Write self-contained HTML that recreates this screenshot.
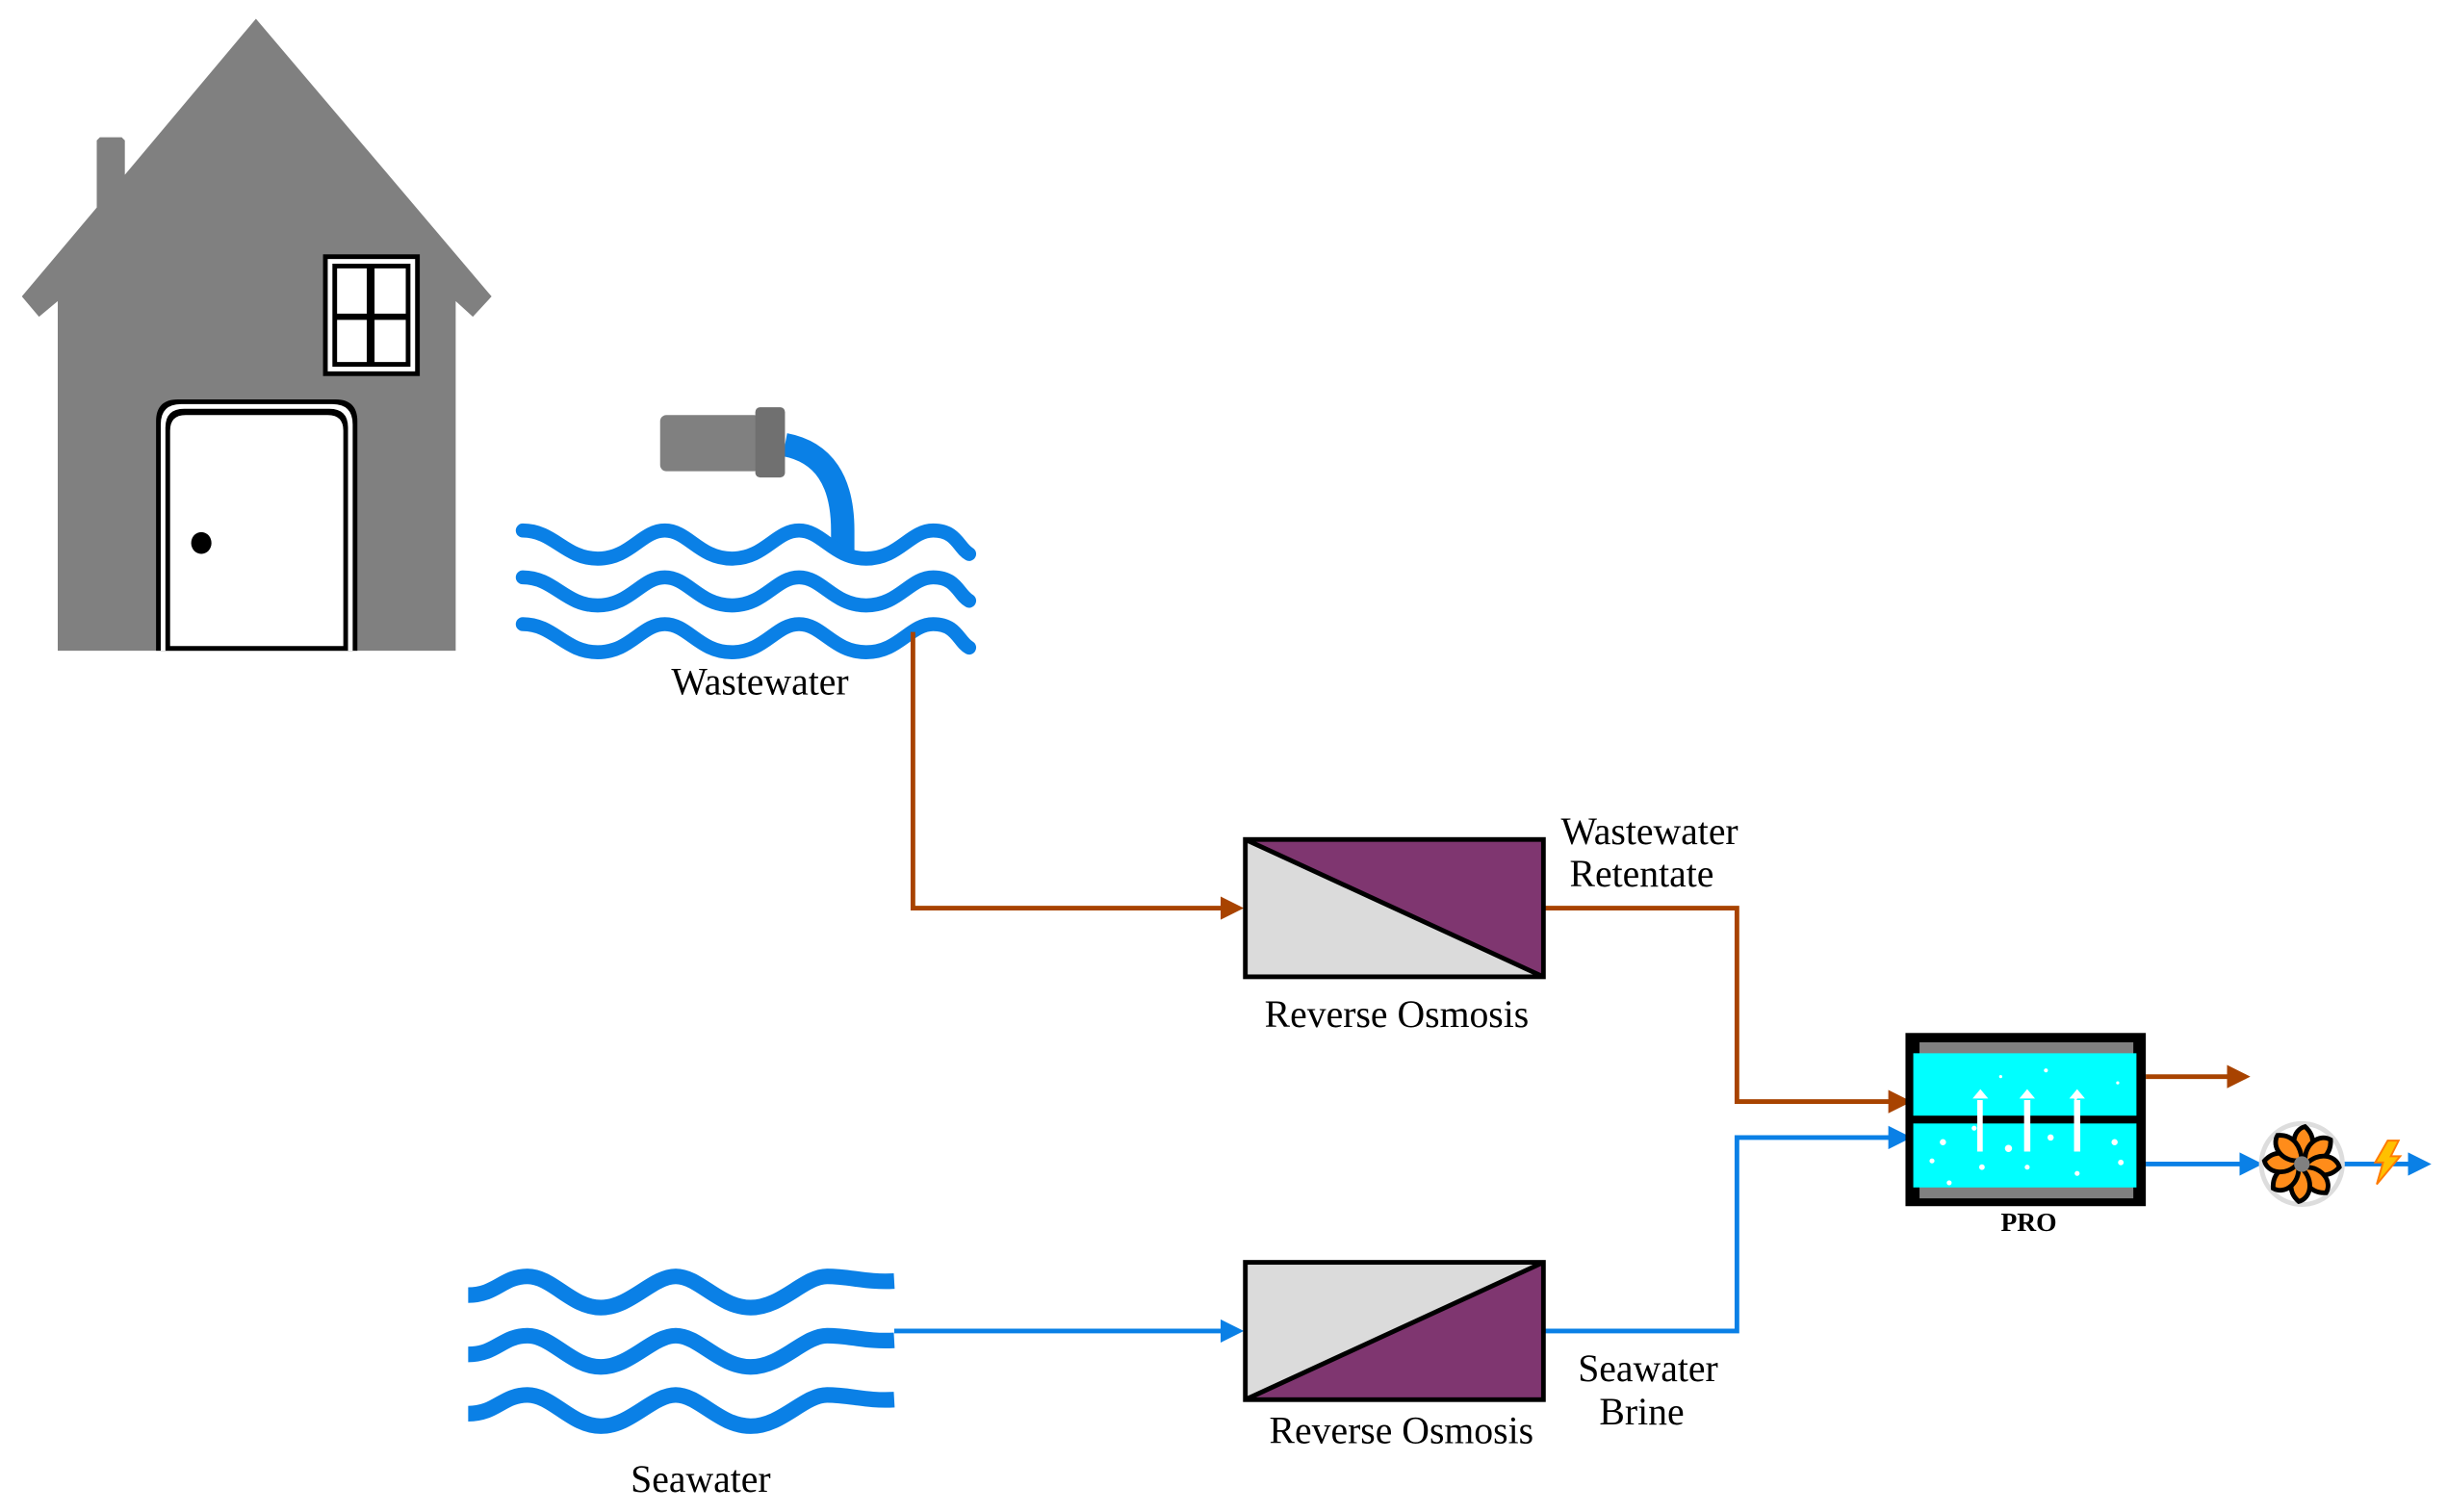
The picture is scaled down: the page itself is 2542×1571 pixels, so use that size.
<!DOCTYPE html>
<html><head><meta charset="utf-8"><style>
html,body{margin:0;padding:0;background:#fff;}
svg{display:block}
text{font-family:"Liberation Serif",serif;fill:#000}
</style></head><body>
<svg width="2542" height="1571" viewBox="0 0 1568 969" preserveAspectRatio="none" xmlns="http://www.w3.org/2000/svg">
<defs>
<marker id="ab" markerWidth="5" markerHeight="5" refX="4" refY="2.5" orient="auto" markerUnits="strokeWidth"><path d="M0,0 L5,2.5 L0,5 Z" fill="#A84300"/></marker>
<marker id="au" markerWidth="5" markerHeight="5" refX="4" refY="2.5" orient="auto" markerUnits="strokeWidth"><path d="M0,0 L5,2.5 L0,5 Z" fill="#0A80E6"/></marker>
</defs>
<!-- House -->
<polygon fill="#808080" points="14,190 62,133 62,90 64,88 78,88 80,90 80,112 164,12 315,190 303,203 292,193 292,417 37,417 37,193 25,203"/>
<rect x="207" y="163" width="62" height="78" fill="#000"/>
<rect x="210" y="166" width="56" height="72" fill="#fff"/>
<rect x="213" y="169" width="50" height="66" fill="#000"/>
<rect x="216" y="172" width="19" height="29" fill="#fff"/>
<rect x="240" y="172" width="20" height="29" fill="#fff"/>
<rect x="216" y="205" width="19" height="27" fill="#fff"/>
<rect x="240" y="205" width="20" height="27" fill="#fff"/>
<path d="M100,417 V270 Q100,256 114,256 H215 Q229,256 229,270 V417 Z" fill="#000"/>
<path d="M103,417 V272 Q103,259 116,259 H213 Q226,259 226,272 V417 Z" fill="#fff"/>
<path d="M106,417 V274 Q106,262 118,262 H211 Q223,262 223,274 V417 Z" fill="#000"/>
<path d="M109,414 V276 Q109,266 119,266 H210 Q220,266 220,276 V414 Z" fill="#fff"/>
<ellipse cx="129" cy="348" rx="6.5" ry="7" fill="#000"/>
<!-- pipe -->
<path d="M503,285 Q540,292 540,340 V355" fill="none" stroke="#0A80E6" stroke-width="15"/>
<rect x="423" y="266" width="64" height="36" rx="4" fill="#808080"/>
<rect x="484" y="261" width="19" height="45" rx="3" fill="#707070"/>
<!-- waves top -->
<g fill="none" stroke="#0A80E6" stroke-width="9" stroke-linecap="round">
<path id="w1" d="M335,340 C355,340 362,358 383,358 S411,340 426,340 S448,358 469,358 S497,340 512,340 S534,358 555,358 S583,340 598,340 S614,351 621,355"/>
<use href="#w1" y="30"/>
<use href="#w1" y="60"/>
</g>
<!-- waves bottom -->
<g fill="none" stroke="#0A80E6" stroke-width="10">
<path id="w2" d="M300,830 C318,830 322,818 338,818 S366,838 385,838 S418,818 433,818 S461,838 481,838 S515,818 530,818 S555,822 573,821"/>
<use href="#w2" y="38"/>
<use href="#w2" y="76"/>
</g>
<!-- brown lines -->
<g fill="none" stroke="#A84300" stroke-width="3">
<polyline points="585,405 585,582 794,582" marker-end="url(#ab)"/>
<polyline points="990,582 1113,582 1113,706 1222,706" marker-end="url(#ab)"/>
<polyline points="1375,690 1439,690" marker-end="url(#ab)"/>
</g>
<g fill="none" stroke="#0A80E6" stroke-width="3">
<polyline points="573,853 794,853" marker-end="url(#au)"/>
<polyline points="990,853 1113,853 1113,729 1222,729" marker-end="url(#au)"/>
<polyline points="1375,746 1447,746" marker-end="url(#au)"/>
<polyline points="1500,746 1555,746" marker-end="url(#au)"/>
</g>
<!-- RO1 -->
<polygon points="798,538 989,538 989,626" fill="#7F3670"/>
<polygon points="798,538 989,626 798,626" fill="#DBDBDB"/>
<line x1="798" y1="538" x2="989" y2="626" stroke="#000" stroke-width="3"/>
<rect x="798" y="538" width="191" height="88" fill="none" stroke="#000" stroke-width="3"/>
<!-- RO2 -->
<polygon points="798,809 989,809 798,897" fill="#DBDBDB"/>
<polygon points="989,809 989,897 798,897" fill="#7F3670"/>
<line x1="798" y1="897" x2="989" y2="809" stroke="#000" stroke-width="3"/>
<rect x="798" y="809" width="191" height="88" fill="none" stroke="#000" stroke-width="3"/>
<!-- PRO -->
<rect x="1221" y="662" width="154" height="111" fill="#000"/>
<rect x="1230" y="668" width="137" height="8" fill="#808080"/>
<rect x="1230" y="760" width="137" height="8" fill="#808080"/>
<rect x="1226" y="675" width="143" height="40" fill="#00FFFF"/>
<rect x="1226" y="720" width="143" height="41" fill="#00FFFF"/>
<g fill="#fff">
<rect x="1267" y="705" width="3.5" height="33"/><rect x="1297" y="705" width="4" height="33"/><rect x="1329" y="705" width="4" height="33"/>
<path d="M1264,704 L1269,698 L1274,704Z M1294,704 L1299,698 L1304,704Z M1326,704 L1331,698 L1336,704Z"/>
<circle cx="1245" cy="732" r="2"/><circle cx="1238" cy="744" r="1.6"/><circle cx="1249" cy="758" r="1.6"/>
<circle cx="1287" cy="736" r="2.3"/><circle cx="1270" cy="748" r="1.8"/><circle cx="1299" cy="748" r="1.6"/>
<circle cx="1314" cy="729" r="2"/><circle cx="1331" cy="752" r="1.6"/><circle cx="1355" cy="732" r="2"/><circle cx="1359" cy="745" r="1.8"/>
<circle cx="1265" cy="723" r="1.6"/><circle cx="1311" cy="686" r="1.3"/><circle cx="1282" cy="690" r="1"/><circle cx="1357" cy="694" r="1"/><circle cx="1330" cy="704" r="1"/>
</g>
<!-- fan -->
<circle cx="1475" cy="746" r="26" fill="#fff" stroke="#DDD" stroke-width="3"/>
<g transform="translate(1475,746)">
<g id="bl"><path d="M0,-3 C-8,-10 -6,-22 2,-24 C10,-17 7,-8 2,-2 Z" fill="#FF8C1A" stroke="#000" stroke-width="3"/></g>
<use href="#bl" transform="rotate(45)"/><use href="#bl" transform="rotate(90)"/><use href="#bl" transform="rotate(135)"/>
<use href="#bl" transform="rotate(180)"/><use href="#bl" transform="rotate(225)"/><use href="#bl" transform="rotate(270)"/><use href="#bl" transform="rotate(315)"/>
<circle r="5" fill="#808080"/>
</g>
<path d="M1530,731 L1537,731 L1532,741 L1538,741 L1523,759 L1527,745 L1522,745 Z" fill="#FFC000" stroke="#FF7A00" stroke-width="1.2"/>
<!-- labels -->
<g font-size="24.5" text-anchor="middle">
<text x="487" y="445">Wastewater</text>
<text x="449" y="956">Seawater</text>
<text x="895" y="658">Reverse Osmosis</text>
<text x="898" y="925">Reverse Osmosis</text>
<text x="1057" y="541">Wastewater</text>
<text x="1052" y="568">Retentate</text>
<text x="1056" y="885">Seawater</text>
<text x="1052" y="913">Brine</text>
<text x="1300" y="789" font-size="17" font-weight="bold">PRO</text>
</g>
</svg>
</body></html>
